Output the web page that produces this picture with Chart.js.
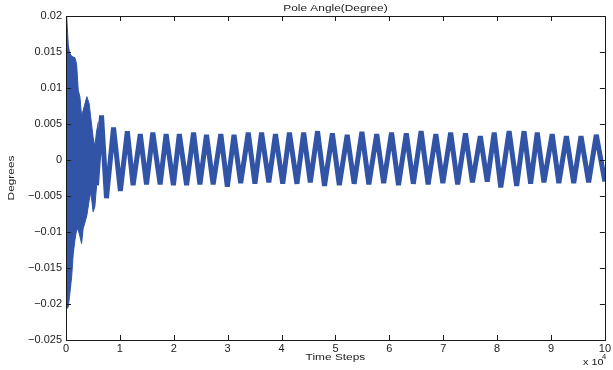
<!DOCTYPE html>
<html>
<head>
<meta charset="utf-8">
<script src="https://cdn.jsdelivr.net/npm/chart.js@4.4.0/dist/chart.umd.min.js"></script>
<style>
  html, body { margin: 0; padding: 0; background: #fff; }
  canvas { display: block; }
</style>
</head>
<body>
<canvas id="myChart" width="613" height="370"></canvas>
<script>
// time axis is in units of 10^4 steps
var xTicks = [0, 1, 2, 3, 4, 5, 6, 7, 8, 9, 10];
var yTicks = [-0.025, -0.02, -0.015, -0.01, -0.005, 0, 0.005, 0.01, 0.015, 0.02];
var yTickText = ['\u22120.025', '\u22120.02', '\u22120.015', '\u22120.01', '\u22120.005', '0', '0.005', '0.01', '0.015', '0.02'];

// start-up transient: upper / lower edge of the dense band
var earlyT  = [0, 0.013, 0.042, 0.065, 0.105, 0.135, 0.166, 0.197, 0.227, 0.258, 0.289, 0.319, 0.351, 0.387, 0.43, 0.461, 0.504, 0.535, 0.566, 0.6];
var earlyUp = [0.0200, 0.0199, 0.0160, 0.0149, 0.0144, 0.0143, 0.0142, 0.0133, 0.0097, 0.0088, 0.0061, 0.0069, 0.0078, 0.0088, 0.0078, 0.0058, 0.0031, 0.0019, 0.0039, 0.0053];
var earlyLo = [-0.0208, -0.0208, -0.0204, -0.0190, -0.0162, -0.0130, -0.0111, -0.0097, -0.0097, -0.0106, -0.0116, -0.0095, -0.0087, -0.0077, -0.0056, -0.0045, -0.0072, -0.0065, -0.0037, -0.0020];

// steady oscillation: alternating top / bottom spikes
var swingT = [0.566, 0.659, 0.751, 0.882, 1.009, 1.138, 1.245, 1.378, 1.494, 1.611, 1.747, 1.858, 1.993, 2.103, 2.238, 2.367, 2.485, 2.607, 2.731, 2.873,
              2.994, 3.118, 3.242, 3.382, 3.506, 3.629, 3.764, 3.887, 4.022, 4.146, 4.286, 4.410, 4.533, 4.668, 4.797, 4.943, 5.072, 5.218, 5.347, 5.491,
              5.620, 5.766, 5.895, 6.041, 6.170, 6.315, 6.445, 6.590, 6.720, 6.863, 6.993, 7.138, 7.268, 7.413, 7.542, 7.688, 7.817, 7.946, 8.068, 8.223,
              8.363, 8.500, 8.622, 8.745, 8.869, 9.022, 9.146, 9.286, 9.422, 9.557, 9.699, 9.840, 10.0];
var swingV = [-0.0035, 0.0062, -0.0053, 0.0045, -0.0043, 0.0040, -0.0035, 0.0036, -0.0034, 0.0038, -0.0034, 0.0036, -0.0035, 0.0036, -0.0035, 0.0038, -0.0034, 0.0035, -0.0034, 0.0036,
              -0.0037, 0.0035, -0.0032, 0.0038, -0.0033, 0.0038, -0.0031, 0.0036, -0.0033, 0.0038, -0.0033, 0.0038, -0.0031, 0.0040, -0.0036, 0.0037, -0.0035, 0.0035, -0.0033, 0.0039,
              -0.0034, 0.0036, -0.0032, 0.0038, -0.0035, 0.0037, -0.0033, 0.0040, -0.0034, 0.0036, -0.0032, 0.0038, -0.0034, 0.0037, -0.0031, 0.0033, -0.0030, 0.0038, -0.0038, 0.0040,
              -0.0036, 0.0040, -0.0033, 0.0038, -0.0031, 0.0036, -0.0032, 0.0033, -0.0032, 0.0033, -0.0031, 0.0035, -0.0030];

var blue = 'rgb(50, 84, 166)';
var ink = '#1a1a1a';

function pts(xs, ys) {
  return xs.map(function (x, i) { return { x: x, y: ys[i] }; });
}

function squashText(ctx, text, x, y, size, align, rot) {
  ctx.save();
  ctx.translate(x, y);
  if (rot) ctx.rotate(rot);
  ctx.scale(1.08, 0.9);
  ctx.font = size + 'px "Liberation Sans", Arial, sans-serif';
  ctx.textAlign = align;
  ctx.textBaseline = 'middle';
  ctx.fillText(text, 0, 0);
  ctx.restore();
}

var frame = {
  id: 'frame',
  afterDraw: function (chart) {
    var ctx = chart.ctx;
    var a = chart.chartArea;
    var xs = chart.scales.x, ys = chart.scales.y;
    ctx.save();
    ctx.strokeStyle = ink;
    ctx.lineWidth = 1;
    ctx.strokeRect(Math.round(a.left) + 0.5, Math.round(a.top) + 0.5, Math.round(a.right - a.left), Math.round(a.bottom - a.top));
    ctx.beginPath();
    xTicks.forEach(function (v) {
      var px = Math.round(xs.getPixelForValue(v)) + 0.5;
      ctx.moveTo(px, a.bottom); ctx.lineTo(px, a.bottom - 5);
      ctx.moveTo(px, a.top); ctx.lineTo(px, a.top + 5);
    });
    yTicks.forEach(function (v) {
      var py = Math.round(ys.getPixelForValue(v)) + 0.5;
      ctx.moveTo(a.left, py); ctx.lineTo(a.left + 5, py);
      ctx.moveTo(a.right, py); ctx.lineTo(a.right - 5, py);
    });
    ctx.stroke();

    ctx.fillStyle = ink;
    squashText(ctx, 'Pole Angle(Degree)', (a.left + a.right) / 2, 8, 11, 'center');
    squashText(ctx, 'Time Steps', (a.left + a.right) / 2, 357, 11, 'center');
    squashText(ctx, 'Degrees', 11, 178, 11, 'center', -Math.PI / 2);
    squashText(ctx, 'x 10', 583, 363, 10, 'left');
    squashText(ctx, '4', 602, 357, 7, 'left');
    ctx.restore();
  }
};

var config = {
  type: 'line',
  data: {
    datasets: [{
      data: pts(earlyT, earlyUp),
      borderColor: blue,
      borderWidth: 1,
      pointRadius: 0,
      fill: false
    }, {
      data: pts(earlyT, earlyLo),
      borderColor: blue,
      backgroundColor: blue,
      borderWidth: 1,
      pointRadius: 0,
      fill: '-1'
    }, {
      data: pts(swingT, swingV),
      borderColor: blue,
      borderWidth: 5,
      borderJoinStyle: 'bevel',
      pointRadius: 0,
      fill: false
    }]
  },
  options: {
    responsive: false,
    animation: false,
    layout: { padding: { top: 16, right: 5, left: 0, bottom: 0 } },
    plugins: {
      legend: { display: false },
      tooltip: { enabled: false },
      title: { display: false }
    },
    scales: {
      x: {
        type: 'linear',
        min: 0,
        max: 10,
        grid: { display: false, drawTicks: false },
        border: { display: false },
        afterBuildTicks: function (s) { s.ticks = xTicks.map(function (v) { return { value: v }; }); },
        afterFit: function (s) { s.height = 30; },
        ticks: {
          padding: 2,
          maxRotation: 0,
          color: ink,
          font: { family: '"Liberation Sans", Arial, sans-serif', size: 11 },
          callback: function (v) { return String(v); }
        }
      },
      y: {
        type: 'linear',
        min: -0.025,
        max: 0.02,
        grid: { display: false, drawTicks: false },
        border: { display: false },
        afterBuildTicks: function (s) { s.ticks = yTicks.map(function (v) { return { value: v }; }); },
        afterFit: function (s) { s.width = 66; },
        ticks: {
          padding: 4,
          color: ink,
          font: { family: '"Liberation Sans", Arial, sans-serif', size: 11 },
          callback: function (v, i) { return yTickText[i]; }
        }
      }
    }
  },
  plugins: [frame]
};

var ctx1 = document.getElementById('myChart').getContext('2d');
var mychart1 = new Chart(ctx1, config);
</script>
</body>
</html>
